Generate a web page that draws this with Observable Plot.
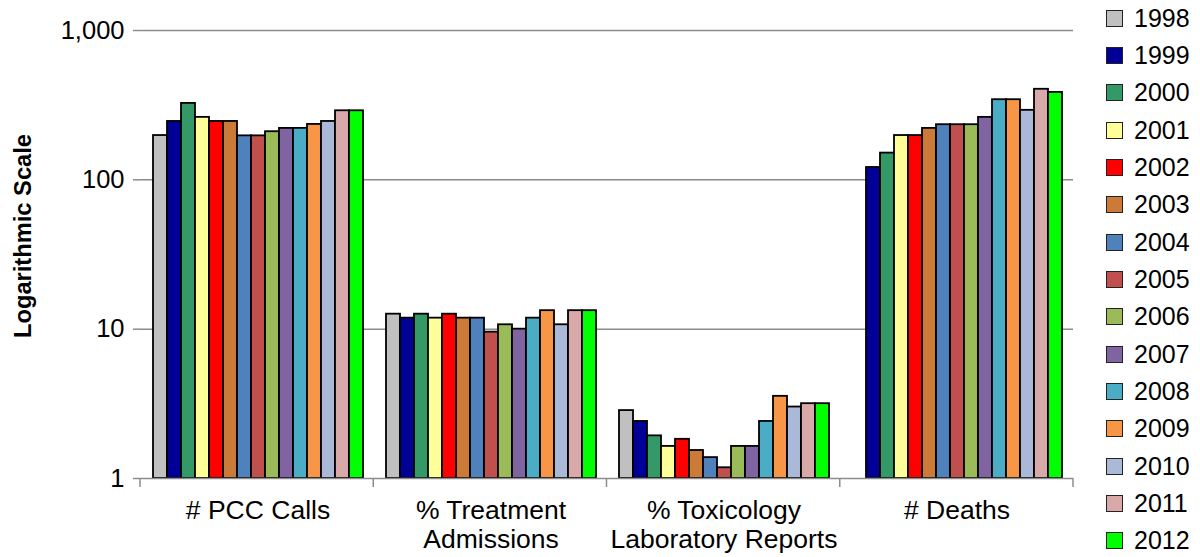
<!DOCTYPE html>
<html>
<head>
<meta charset="utf-8">
<script src="https://cdn.jsdelivr.net/npm/d3@7"></script>
<script src="https://cdn.jsdelivr.net/npm/@observablehq/plot@0.6"></script>
<style>
  html, body { margin: 0; padding: 0; background: #fff; }
  body { font-family: "Liberation Sans", Arial, sans-serif; }
  #wrap { position: relative; width: 1200px; height: 557px; overflow: hidden; }
  #ylabel { position: absolute; left: 23px; top: 236px; transform: translate(-50%, -50%) rotate(-90deg);
            font-size: 23.7px; font-weight: bold; white-space: nowrap; color: #000; }
  #legend { position: absolute; left: 1106px; top: 0; }
  .item { position: absolute; left: 0; height: 28px; display: flex; align-items: center; white-space: nowrap; }
  .sw { width: 15px; height: 15px; border: 1.5px solid #222; box-sizing: content-box; }
  .lab { margin-left: 11px; font-size: 25px; color: #000; }
</style>
</head>
<body>
<div id="wrap">
  <div id="chart"></div>
  <div id="ylabel">Logarithmic Scale</div>
  <div id="legend"></div>
</div>
<script>
const categories = ["# PCC Calls", "% Treatment\nAdmissions", "% Toxicology\nLaboratory Reports", "# Deaths"];
const years = ["1998","1999","2000","2001","2002","2003","2004","2005","2006","2007","2008","2009","2010","2011","2012"];
const pccCalls = [198, 246, 325, 262, 246, 246, 197, 197, 210, 221, 221, 235, 246, 290, 290];
const treatmentAdmissions = [12.6, 11.85, 12.6, 11.85, 12.6, 11.85, 11.85, 9.55, 10.7, 10.0, 11.85, 13.3, 10.7, 13.3, 13.3];
const toxicologyReports = [2.85, 2.41, 1.93, 1.64, 1.83, 1.54, 1.38, 1.18, 1.64, 1.64, 2.41, 3.55, 3.01, 3.17, 3.17];
const deaths = [null, 121, 151, 198, 198, 221, 234, 234, 234, 262, 344, 344, 292, 404, 385];
const yTicks = [1, 10, 100, 1000];
const colors = ["#C0C0C0","#000096","#339966","#FFFF99","#FF0000","#CC7A38","#4F81BD","#C0504D",
                "#9BBB59","#8064A2","#4BACC6","#F79646","#A9B9D7","#D9A8A8","#00FF00"];

const series = [pccCalls, treatmentAdmissions, toxicologyReports, deaths];
const rows = [];
categories.forEach((c, ci) => years.forEach((yr, yi) => {
  const v = series[ci][yi];
  if (v != null) rows.push({category: c, year: yr, value: v});
}));

const grid = "#8c8c8c";
const chart = Plot.plot({
  width: 1200, height: 557,
  marginLeft: 140, marginRight: 127, marginTop: 30, marginBottom: 79,
  style: {fontFamily: "'Liberation Sans', Arial, sans-serif", fontSize: "25px", color: "black", background: "white"},
  fx: {domain: categories, padding: 0, axis: null},
  x: {domain: years, paddingInner: 0, paddingOuter: 0.7, axis: null},
  y: {type: "log", domain: [yTicks[0], yTicks[yTicks.length - 1]], axis: null},
  color: {domain: years, range: colors},
  marks: [
    Plot.gridY(yTicks.slice(1), {stroke: grid, strokeOpacity: 1, strokeWidth: 1.5}),
    Plot.barY(rows, {fx: "category", x: "year", y1: () => yTicks[0], y2: "value", fill: "year",
                     stroke: "black", strokeWidth: 1.8, inset: 0}),
    Plot.ruleY([yTicks[0]], {stroke: grid, strokeWidth: 1.5}),
    Plot.axisY(yTicks, {anchor: "left", facetAnchor: "left", tickFormat: ",", tickSize: 8, tickPadding: 9,
                        stroke: grid, strokeWidth: 1.5, line: true, fontSize: 25.5, fill: "black", label: null}),
    Plot.text(categories, {fx: d => d, text: d => d, frameAnchor: "bottom", lineAnchor: "top",
                           dy: 20, fontSize: 26.5, lineHeight: 1.1, fill: "black"})
  ]
});

// boundary ticks on the category axis, placed with the fx and y scales
const fxs = chart.scale("fx");
const ys = chart.scale("y");
const fxScale = d3.scaleBand().domain(fxs.domain).range(fxs.range)
  .paddingInner(fxs.paddingInner || 0).paddingOuter(fxs.paddingOuter || 0);
const bounds = categories.map(c => fxScale(c));
bounds.push(fxScale(categories[categories.length - 1]) + fxScale.bandwidth());
const y0 = ys.apply ? ys.apply(yTicks[0]) : d3.scaleLog().domain(ys.domain).range(ys.range)(yTicks[0]);
d3.select(chart).append("g")
  .selectAll("line").data(bounds).join("line")
  .attr("x1", d => d).attr("x2", d => d)
  .attr("y1", y0).attr("y2", y0 + 9)
  .attr("stroke", grid).attr("stroke-width", 1.5);

document.getElementById("chart").appendChild(chart);

// legend
const legend = document.getElementById("legend");
years.forEach((yr, i) => {
  const it = document.createElement("div");
  it.className = "item";
  it.style.top = (18 + 37.35 * i - 14) + "px";
  const sw = document.createElement("div");
  sw.className = "sw";
  sw.style.background = colors[i];
  const lab = document.createElement("span");
  lab.className = "lab";
  lab.textContent = yr;
  it.appendChild(sw); it.appendChild(lab);
  legend.appendChild(it);
});
</script>
</body>
</html>
